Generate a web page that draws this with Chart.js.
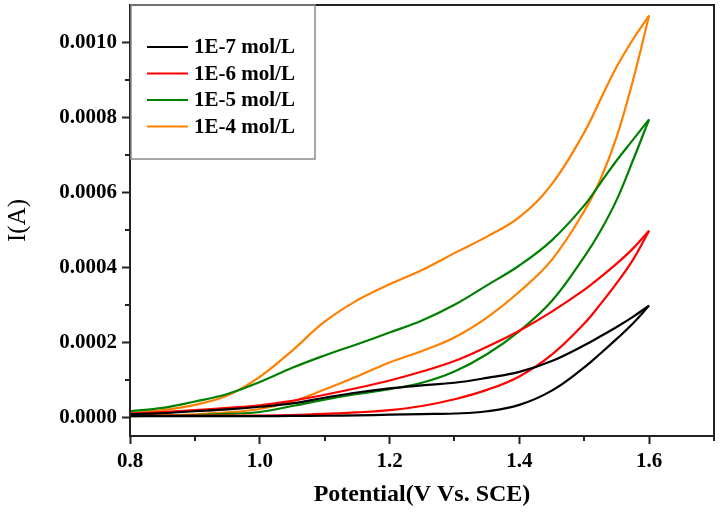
<!DOCTYPE html>
<html>
<head>
<meta charset="utf-8">
<script src="https://cdn.jsdelivr.net/npm/chart.js@4/dist/chart.umd.min.js"></script>
<style>
  html, body { margin: 0; padding: 0; background: #ffffff; }
  #wrap { width: 720px; height: 514px; }
</style>
</head>
<body>
<div id="wrap"><canvas id="c" width="720" height="514"></canvas></div>
<script>
// ---- data (potential in V, current in A) ----
const potential = [0.80, 0.85, 0.90, 0.95, 1.00, 1.05, 1.10, 1.15, 1.20, 1.25, 1.30, 1.35, 1.40, 1.45, 1.50, 1.525, 1.55, 1.575, 1.60];

const seriesLabels = ['1E-7 mol/L', '1E-6 mol/L', '1E-5 mol/L', '1E-4 mol/L'];

// forward (lower) branch and reverse (upper) branch of each voltammogram
const black_fwd  = [3.0e-6, 3.0e-6, 3.0e-6, 3.0e-6, 3.0e-6, 3.5e-6, 4.0e-6, 5.0e-6, 7.0e-6, 8.5e-6, 10e-6, 16e-6, 33e-6, 71e-6, 133e-6, 170e-6, 209e-6, 250e-6, 298e-6];
const black_rev  = [8e-6, 11e-6, 16e-6, 21e-6, 28e-6, 37e-6, 52e-6, 66e-6, 77e-6, 85e-6, 92e-6, 105e-6, 121e-6, 150e-6, 192e-6, 216e-6, 241e-6, 268e-6, 298e-6];
const red_fwd    = [4.5e-6, 4.5e-6, 4.5e-6, 4.5e-6, 4.5e-6, 6e-6, 9e-6, 13e-6, 19e-6, 30e-6, 48e-6, 73e-6, 109e-6, 167e-6, 250e-6, 302e-6, 358e-6, 420e-6, 498e-6];
const red_rev    = [10e-6, 14e-6, 19e-6, 25e-6, 32e-6, 44e-6, 60e-6, 78e-6, 98e-6, 122e-6, 150e-6, 188e-6, 231e-6, 282e-6, 340e-6, 374e-6, 410e-6, 450e-6, 498e-6];
const green_fwd  = [3e-6, 4e-6, 6e-6, 9e-6, 14e-6, 30e-6, 47e-6, 62e-6, 75e-6, 92e-6, 122e-6, 168e-6, 230e-6, 310e-6, 428e-6, 497e-6, 580e-6, 685e-6, 795e-6];
const green_rev  = [16e-6, 25e-6, 42e-6, 62e-6, 94e-6, 132e-6, 165e-6, 195e-6, 226e-6, 258e-6, 300e-6, 352e-6, 405e-6, 472e-6, 565e-6, 625e-6, 685e-6, 740e-6, 795e-6];
const orange_fwd = [3e-6, 5e-6, 8e-6, 13e-6, 22e-6, 42e-6, 74e-6, 109e-6, 146e-6, 177e-6, 213e-6, 266e-6, 335e-6, 420e-6, 550e-6, 635e-6, 748e-6, 898e-6, 1072e-6];
const orange_rev = [10e-6, 19e-6, 33e-6, 58e-6, 108e-6, 178e-6, 255e-6, 312e-6, 355e-6, 393e-6, 438e-6, 482e-6, 534e-6, 622e-6, 760e-6, 848e-6, 935e-6, 1008e-6, 1072e-6];

const xTickValues = [0.8, 1.0, 1.2, 1.4, 1.6];
const xMinorTicks = [0.9, 1.1, 1.3, 1.5, 1.7];
const yTickValues = [0.0000, 0.0002, 0.0004, 0.0006, 0.0008, 0.0010];
const yMinorTicks = [0.0001, 0.0003, 0.0005, 0.0007, 0.0009];

// ---- build datasets ----
const colors = ['#000000', '#ff0000', '#008000', '#ff8000'];
const branches = [
  [black_fwd, black_rev],
  [red_fwd, red_rev],
  [green_fwd, green_rev],
  [orange_fwd, orange_rev]
];
const toPts = arr => potential.map((v, i) => ({ x: v, y: arr[i] }));
const datasets = [];
branches.forEach((pair, s) => {
  pair.forEach((arr, b) => {
    datasets.push({
      label: seriesLabels[s],
      data: toPts(arr),
      showLine: true,
      borderColor: colors[s],
      backgroundColor: colors[s],
      borderWidth: 2.2,
      pointRadius: 0,
      pointHoverRadius: 0,
      tension: 0.4,
      fill: false,
      isMain: b === 0
    });
  });
});

const AXIS_COLOR = '#222222';
const serifBold = { family: "'Liberation Serif', 'Times New Roman', serif", size: 21, weight: 'bold' };

const framePlugin = {
  id: 'frameMinor',
  afterDraw(chart) {
    const { ctx, chartArea: ca, scales: { x, y } } = chart;
    ctx.save();
    ctx.strokeStyle = AXIS_COLOR;
    ctx.lineWidth = 2;
    // minor ticks
    xMinorTicks.forEach(v => {
      const px = Math.round(x.getPixelForValue(v));
      ctx.beginPath();
      ctx.moveTo(px, ca.bottom);
      ctx.lineTo(px, ca.bottom + 5);
      ctx.stroke();
    });
    yMinorTicks.forEach(v => {
      const py = Math.round(y.getPixelForValue(v));
      ctx.beginPath();
      ctx.moveTo(ca.left, py);
      ctx.lineTo(ca.left - 5, py);
      ctx.stroke();
    });
    // frame
    ctx.strokeRect(ca.left, ca.top, ca.right - ca.left, ca.bottom - ca.top);

    // legend box
    const lx = ca.left + 1, ly = ca.top, lw = 184, lh = 154;
    ctx.fillStyle = '#ffffff';
    ctx.fillRect(lx, ly + 1, lw, lh - 1);
    ctx.strokeStyle = '#8a8a8a';
    ctx.lineWidth = 1.5;
    ctx.strokeRect(lx, ly, lw, lh);
    ctx.font = "bold 21px 'Liberation Serif', 'Times New Roman', serif";
    ctx.textBaseline = 'middle';
    ctx.textAlign = 'left';
    const mains = chart.data.datasets.filter(d => d.isMain);
    mains.forEach((d, i) => {
      const ry = ly + 42 + i * 26.5;
      ctx.strokeStyle = d.borderColor;
      ctx.lineWidth = 2.2;
      ctx.beginPath();
      ctx.moveTo(lx + 16, ry);
      ctx.lineTo(lx + 57, ry);
      ctx.stroke();
      ctx.fillStyle = '#000000';
      ctx.fillText(d.label, lx + 63, ry + 1);
    });
    ctx.restore();
  }
};

new Chart(document.getElementById('c'), {
  type: 'scatter',
  data: { datasets },
  options: {
    responsive: false,
    animation: false,
    events: [],
    layout: { padding: { top: 5, right: 6, left: 0, bottom: 0 } },
    plugins: {
      legend: { display: false },
      tooltip: { enabled: false }
    },
    scales: {
      x: {
        type: 'linear',
        min: 0.8,
        max: 1.7,
        afterBuildTicks: s => { s.ticks = xTickValues.map(v => ({ value: v })); },
        afterFit: s => { s.height = 78; s.paddingLeft = 0; s.paddingRight = 0; },
        grid: { display: true, drawOnChartArea: false, drawTicks: true, tickLength: 8, tickWidth: 2, tickColor: AXIS_COLOR },
        border: { display: true, color: AXIS_COLOR, width: 2 },
        ticks: {
          color: '#000000',
          font: serifBold,
          padding: 5,
          maxRotation: 0,
          callback: v => Number(v).toFixed(1)
        },
        title: {
          display: true,
          text: 'Potential(V Vs. SCE)',
          color: '#000000',
          font: { family: "'Liberation Serif', 'Times New Roman', serif", size: 24, weight: 'bold' },
          padding: { top: 4, bottom: 5 }
        }
      },
      y: {
        type: 'linear',
        min: -0.00005,
        max: 0.0011,
        afterBuildTicks: s => { s.ticks = yTickValues.map(v => ({ value: v })); },
        afterFit: s => { s.width = 130; s.paddingTop = 0; s.paddingBottom = 0; },
        grid: { display: true, drawOnChartArea: false, drawTicks: true, tickLength: 8, tickWidth: 2, tickColor: AXIS_COLOR },
        border: { display: true, color: AXIS_COLOR, width: 2 },
        ticks: {
          color: '#000000',
          font: serifBold,
          padding: 5,
          callback: v => Number(v).toFixed(4)
        },
        title: {
          display: true,
          text: 'I(A)',
          color: '#000000',
          font: { family: "'Liberation Serif', 'Times New Roman', serif", size: 25, weight: 'normal' },
          padding: { top: 3, bottom: 0 }
        }
      }
    }
  },
  plugins: [framePlugin]
});
</script>
</body>
</html>
